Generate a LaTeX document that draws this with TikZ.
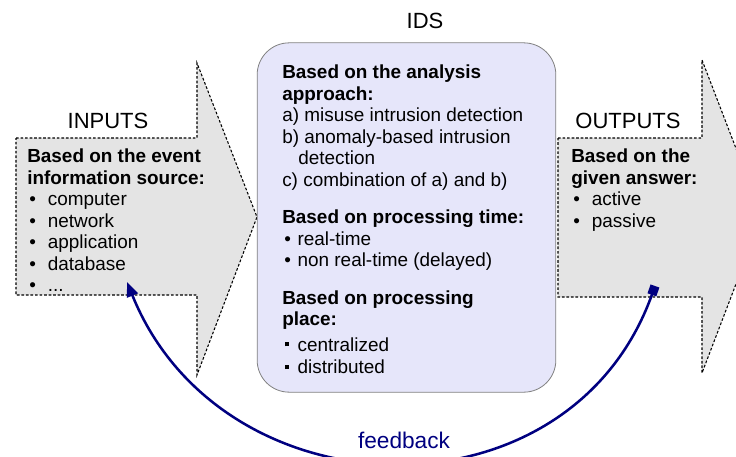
\documentclass[tikz,border=0pt]{standalone}
\usepackage{fontspec}
\setmainfont{Liberation Sans}
\usetikzlibrary{arrows.meta,positioning}

\definecolor{arrowgray}{RGB}{228,228,228}
\definecolor{idsfill}{RGB}{230,230,250}
\definecolor{fbnavy}{RGB}{0,0,128}

% list items
\newcommand{\dotitem}[2]{\makebox[#1][l]{\hspace{1.5pt}\textbullet}#2}
\newcommand{\sqitem}[2]{\makebox[#1][l]{\hspace{2pt}\rule[0.25em]{0.22em}{0.22em}}#2}

\begin{document}
\begin{tikzpicture}[
        x=0.75pt, y=-0.75pt,
        arrowbox/.style={fill=arrowgray, draw=black, line width=0.8pt, dash pattern=on 2pt off 1.4pt},
        idsbox/.style={rectangle, rounded corners=24pt, fill=idsfill, draw=black!50, line width=0.6pt,
                       minimum width=224pt, minimum height=262pt, inner sep=0pt},
        listtext/.style={font=\fontsize{14.2}{16.1}\selectfont, align=left, inner sep=0pt, anchor=north west},
        titletext/.style={font=\fontsize{16.5}{18}\selectfont, inner sep=0pt},
        feedback/.style={draw=fbnavy, line width=1.9pt, {Square[length=7pt,width=7pt]}-{Triangle[length=11pt,width=8.5pt]}},
    ]
    \useasboundingbox (0,0) rectangle (736,457);
    \clip (0,0) rectangle (736,457);

    % Input and output arrows
    \filldraw[arrowbox] (16,138) -- (197,138) -- (197,63) -- (257,217) -- (197,375)
        -- (197,295) -- (16,295) -- cycle;
    \filldraw[arrowbox] (558,138) -- (702,138) -- (702,60) -- (762,216) -- (702,373)
        -- (702,297) -- (558,297) -- cycle;

    % IDS box
    \node (ids) [idsbox] at (406.5,217.5) {};

    % Titles
    \node (idstitle) [titletext] at (425,21) {IDS};
    \node (intitle) [titletext] at (108,121) {INPUTS};
    \node (outtitle) [titletext] at (628,121) {OUTPUTS};

    % Lists
    \node (inlist) [listtext] at (27,149) {%
        \textbf{Based on the event}\\
        \textbf{information source:}\\
        \dotitem{15.5pt}{computer}\\
        \dotitem{15.5pt}{network}\\
        \dotitem{15.5pt}{application}\\
        \dotitem{15.5pt}{database}\\
        \dotitem{15.5pt}{...}};
    \node (idslist) [listtext] at (282,65) {%
        \textbf{Based on the analysis}\\
        \textbf{approach:}\\
        a) misuse intrusion detection\\
        b) anomaly-based intrusion\\
        \hspace*{12pt}detection\\
        c) combination of a) and b)\\[12pt]
        \textbf{Based on processing time:}\\
        \dotitem{11.5pt}{real-time}\\
        \dotitem{11.5pt}{non real-time (delayed)}\\[12pt]
        \textbf{Based on processing}\\
        \textbf{place:}\\[3pt]
        \sqitem{11.5pt}{centralized}\\[1pt]
        \sqitem{11.5pt}{distributed}};
    \node (outlist) [listtext] at (571,149) {%
        \textbf{Based on the}\\
        \textbf{given answer:}\\
        \dotitem{15.5pt}{active}\\
        \dotitem{15.5pt}{passive}};

    % Feedback loop
    \coordinate (fbout) at (655,286);
    \coordinate (fbin) at (127,282);
    \draw[feedback] (fbout) .. controls +(-85,240) and +(95,235) .. (fbin);
    \node (fblabel) [titletext, font=\fontsize{17}{19}\selectfont, text=fbnavy] at (404,440) {feedback};

\end{tikzpicture}
\end{document}
